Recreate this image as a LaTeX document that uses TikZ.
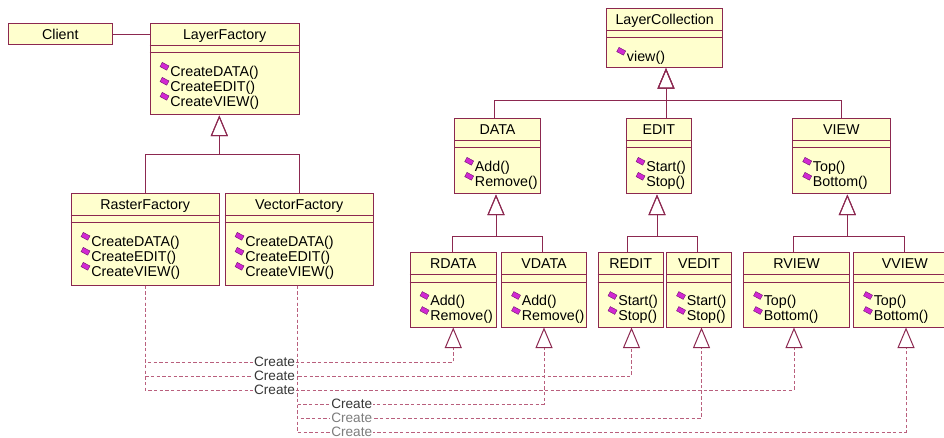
\documentclass[tikz,border=0pt]{standalone}
\usepackage{fontspec}
\setmainfont{Liberation Sans}
\usetikzlibrary{arrows.meta,calc,fit}

\definecolor{umlline}{RGB}{140,40,80}
\definecolor{umldash}{RGB}{185,95,125}
\definecolor{umlfill}{RGB}{255,255,206}
\definecolor{opfill}{RGB}{210,40,210}
\definecolor{opedge}{RGB}{110,20,110}
\definecolor{lbldark}{RGB}{55,55,55}
\definecolor{lbllight}{RGB}{125,125,125}

\tikzset{
  clsbox/.style={draw=umlline, fill=umlfill, line width=0.75pt, inner sep=0pt, minimum size=0pt},
  clstitle/.style={inner sep=0pt, font=\fontsize{10.7}{12}\selectfont},
  optext/.style={inner sep=0pt, font=\fontsize{10.7}{12}\selectfont},
  opicon/.style={fill=opfill, draw=opedge, line width=0.3pt},
  compart/.style={draw=umlline, line width=0.75pt},
  gen/.style={draw=umlline, line width=0.75pt,
    -{Triangle[open, length=15.4pt, width=12.75pt]}},
  real/.style={draw=umldash, line width=0.75pt, dash pattern=on 2.6pt off 1.65pt,
    -{Triangle[open, length=15.4pt, width=12.75pt, color=umlline]}},
  assoc/.style={draw=umlline, line width=0.75pt},
  lbl/.style={fill=white, inner sep=0.6pt, font=\fontsize{10.2}{12}\selectfont, text=lbldark},
  lblpale/.style={lbl, text=lbllight},
}

% class box: name, x1, y1, x2, y2, title, operations
\newcommand\umlclass[7]{%
  \node[clsbox, fit={(#2,#3) (#4,#5)}] (#1) {};
  \draw[compart] ($(#1.north west)+(0,22.3)$) -- ($(#1.north east)+(0,22.3)$);
  \draw[compart] ($(#1.north west)+(0,30)$) -- ($(#1.north east)+(0,30)$);
  \node[clstitle, anchor=base] (#1-name) at ($(#1.north)+(0,16.8)$) {#6};
  \foreach \op [count=\i] in {#7} {
    \pgfmathsetmacro\opy{53.5+15*(\i-1)}
    \coordinate (#1-ic\i) at ($(#1.north west)+(15,{\opy-10})$);
    \filldraw[opicon, shift={(#1-ic\i)}, rotate=-28] (-3.8,-2.4) rectangle (3.8,2.4);
    \node[optext, anchor=base west] (#1-op\i) at ($(#1.north west)+(20.5,\opy)$) {\op};
  }
}

\begin{document}
\begin{tikzpicture}[x=0.75pt, y=-0.75pt]
\useasboundingbox (0,0) rectangle (944,438);
\clip (0,0) rectangle (944,438);
\fill[white] (0,0) rectangle (944,438);

% client
\node[clsbox, fit={(8,23.3) (112.7,45)}] (client) {};
\node[clstitle, anchor=base] (client-name) at ($(client.north)+(0,17)$) {Client};

% factories
\umlclass{layerf}{150}{23.3}{299.3}{115}{LayerFactory}{CreateDATA(),CreateEDIT(),CreateVIEW()}
\umlclass{rasterf}{71}{193.3}{219.3}{285}{RasterFactory}{CreateDATA(),CreateEDIT(),CreateVIEW()}
\umlclass{vectorf}{225}{193.3}{373.3}{285}{VectorFactory}{CreateDATA(),CreateEDIT(),CreateVIEW()}

% layer hierarchy
\umlclass{layercoll}{606.7}{8.3}{722.7}{67.7}{LayerCollection}{view()}
\umlclass{data}{454.7}{118.3}{540.3}{194}{DATA}{Add(),Remove()}
\umlclass{edit}{626}{118.3}{691.7}{194}{EDIT}{Start(),Stop()}
\umlclass{view}{792.7}{118.3}{890}{194}{VIEW}{Top(),Bottom()}
\umlclass{rdata}{410}{252.5}{496.5}{327}{RDATA}{Add(),Remove()}
\umlclass{vdata}{501.5}{252.5}{586.5}{327}{VDATA}{Add(),Remove()}
\umlclass{redit}{598}{252.5}{663.5}{327}{REDIT}{Start(),Stop()}
\umlclass{vedit}{666.5}{252.5}{731.5}{327}{VEDIT}{Start(),Stop()}
\umlclass{rview}{743.5}{252.5}{849.5}{327}{RVIEW}{Top(),Bottom()}
\umlclass{vview}{853.5}{252.5}{956}{327}{VVIEW}{Top(),Bottom()}

% association
\draw[assoc] (client.east) -- (client.east -| layerf.west);

% generalisations
\draw[gen] (rasterf.north) -- ++(0,-38.3) -| ($(layerf.south)+(-5.35,0)$);
\draw[gen] (vectorf.north) -- ++(0,-38.3) -| ($(layerf.south)+(-5.35,0)$);
\draw[gen] ($(data.north)+(-3,0)$) -- ++(0,-17.6) -| ($(layercoll.south)+(1.3,0)$);
\draw[gen] ($(edit.north)+(7.15,0)$) -- ($(layercoll.south)+(1.3,0)$);
\draw[gen] (view.north) -- ++(0,-17.6) -| ($(layercoll.south)+(1.3,0)$);
\draw[gen] ($(rdata.north)+(-1.25,0)$) -- ++(0,-15.5) -| ($(data.south)+(-1.5,0)$);
\draw[gen] ($(vdata.north)+(-2,0)$) -- ++(0,-15.5) -| ($(data.south)+(-1.5,0)$);
\draw[gen] ($(redit.north)+(-3.25,0)$) -- ++(0,-15.5) -| ($(edit.south)+(-1.85,0)$);
\draw[gen] ($(vedit.north)+(-1.5,0)$) -- ++(0,-15.5) -| ($(edit.south)+(-1.85,0)$);
\draw[gen] ($(rview.north)+(-3.2,0)$) -- ++(0,-15.5) -| ($(view.south)+(6,0)$);
\draw[gen] (vview.north) -- ++(0,-15.5) -| ($(view.south)+(6,0)$);

% realisation rows
\coordinate (row1) at (0,362);
\coordinate (row2) at (0,376);
\coordinate (row3) at (0,390);
\coordinate (row4) at (0,404);
\coordinate (row5) at (0,418);
\coordinate (row6) at (0,432);
\coordinate (vfout) at ($(vectorf.south)+(-2,0)$);
\coordinate (rdata-in) at (rdata.south);
\coordinate (vdata-in) at (vdata.south);
\coordinate (redit-in) at ($(redit.south)+(0.75,0)$);
\coordinate (vedit-in) at ($(vedit.south)+(2.5,0)$);
\coordinate (rview-in) at ($(rview.south)+(-2.5,0)$);
\coordinate (vview-in) at ($(vview.south)+(1.25,0)$);

% raster products
\draw[real] (rasterf.south) |- (row1 -| rdata-in) -- (rdata-in);
\draw[real] (rasterf.south) |- (row2 -| redit-in) -- (redit-in);
\draw[real] (rasterf.south) |- (row3 -| rview-in) -- (rview-in);
\node[lbl] (cr1) at (274.5,362) {Create};
\node[lbl] (cr2) at (274.5,376) {Create};
\node[lbl] (cr3) at (274.5,390) {Create};

% vector products
\draw[real] (vfout) |- (row4 -| vdata-in) -- (vdata-in);
\draw[real] (vfout) |- (row5 -| vedit-in) -- (vedit-in);
\draw[real] (vfout) |- (row6 -| vview-in) -- (vview-in);
\node[lbl] (cv1) at (351.7,404) {Create};
\node[lblpale] (cv2) at (351.7,418) {Create};
\node[lblpale] (cv3) at (351.7,432) {Create};
\end{tikzpicture}
\end{document}
